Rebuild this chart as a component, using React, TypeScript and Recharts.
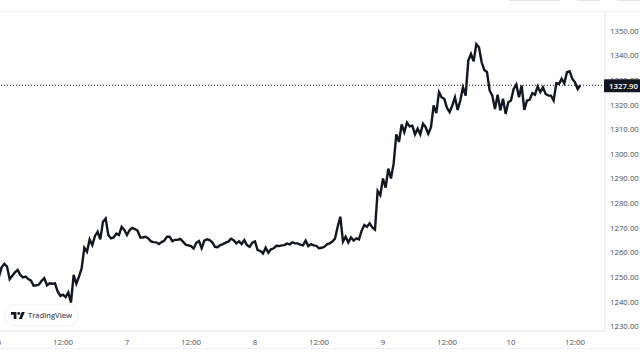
import React from 'react';
import { LineChart, Line, XAxis, YAxis, ReferenceLine } from 'recharts';

// half-hourly closes, one list per day
const day6 = [1250.3, 1254.1, 1255.5, 1254.4, 1249.3, 1250.7, 1252, 1253, 1251, 1250, 1250.3, 1249.3, 1248.7, 1246.6, 1246.8, 1247.1, 1248.6, 1249.7, 1246.8, 1247.6, 1247.4, 1247.6, 1244.3, 1242.5, 1243, 1242, 1243.9, 1239.8, 1251, 1247.4, 1250.3, 1253.7, 1262, 1260.4, 1265.4, 1263.1, 1266.8, 1268.5, 1265.4, 1272.6, 1273.9, 1267.2, 1265.8, 1266.2, 1267.8, 1267.2, 1270.5, 1269.2];
const day7 = [1267.2, 1269.2, 1270.1, 1269.6, 1268.9, 1266.2, 1266.2, 1266.5, 1265.8, 1264.6, 1264.3, 1264.2, 1263.5, 1264.3, 1264.9, 1266.5, 1266.5, 1264.7, 1265.2, 1265.2, 1265.6, 1264.5, 1263.3, 1263, 1262.7, 1261.7, 1264, 1264.7, 1261.8, 1264.9, 1265.4, 1265.1, 1264.2, 1262.4, 1262.2, 1263.1, 1263.5, 1264.1, 1264.5, 1265.7, 1265.1, 1263.8, 1264.6, 1263.5, 1265.1, 1263.1, 1262.4, 1264.1];
const day8 = [1264.6, 1261.1, 1260.7, 1259.7, 1262, 1260, 1261.4, 1261.8, 1262.8, 1262.7, 1263, 1263.1, 1263.7, 1263.4, 1264.2, 1263.8, 1263.8, 1263.3, 1263, 1264.9, 1262.7, 1263.5, 1263, 1262.8, 1261.8, 1262, 1262.4, 1263.4, 1263.8, 1264.5, 1265.7, 1270.5, 1274.6, 1264.5, 1266.5, 1264.1, 1266.2, 1264.9, 1265.8, 1265.4, 1268.9, 1271.2, 1270.5, 1271.9, 1270.3, 1269.4, 1285, 1283.3];
const day9 = [1290.1, 1286.4, 1294.1, 1290.1, 1296.1, 1308, 1304.9, 1312, 1308.9, 1312.8, 1311.2, 1311.5, 1308, 1310.3, 1308, 1312.3, 1310.9, 1308.2, 1310.9, 1319.7, 1316.6, 1325.1, 1323, 1322.4, 1318.7, 1317, 1319.7, 1323, 1317.9, 1321.7, 1327.1, 1323.7, 1337.9, 1340.6, 1337.6, 1344.6, 1343.3, 1337.2, 1334.1, 1333.2, 1325.8, 1323.7, 1318.3, 1324.1, 1317.7, 1322.4, 1316.3, 1321];
const day10 = [1321.7, 1326.4, 1328.2, 1323, 1327.8, 1317.9, 1321.7, 1322, 1324.7, 1324.1, 1327.4, 1325.1, 1327.1, 1324.4, 1323.7, 1323.7, 1321.7, 1328.7, 1328.4, 1330.5, 1328.7, 1333.2, 1333.6, 1330.5, 1329.1, 1326.4, 1327.9];

const timeTicks = [0, 12, 24, 36, 48, 60, 72, 84, 96, 108];
const timeLabels = ['6', '12:00', '7', '12:00', '8', '12:00', '9', '12:00', '10', '12:00'];
const priceTicks = [1230, 1240, 1250, 1260, 1270, 1280, 1290, 1300, 1310, 1320, 1330, 1340, 1350];
const lastPrice = 1327.9;

const prices = [...day6, ...day7, ...day8, ...day9, ...day10];
const data = prices.map((price, i) => ({ t: i * 0.5, price }));

const FONT = '"Open Sans", sans-serif';
const INK = '#131722';
const BORDER = '#e0e3eb';

function LastPriceLabel({ viewBox }: any) {
  const right = viewBox.x + viewBox.width;
  const y = viewBox.y;
  return (
    <g>
      <rect x={right - 1} y={y - 6} width={37} height={13} fill={INK} rx={1} />
      <text x={right + 18.5} y={y + 3.5} textAnchor="middle" fontSize={7.8} fontWeight={600} fontFamily={FONT} fill="#fff">
        {lastPrice.toFixed(2)}
      </text>
    </g>
  );
}

function Watermark() {
  return (
    <div style={{
      position: 'absolute', left: 4, top: 304, width: 73, height: 20, border: '1px solid #f0f3fa',
      borderRadius: 11, background: '#fff', display: 'flex', alignItems: 'center',
    }}>
      <svg width={14} height={7} viewBox="0 0 36 18" style={{ marginLeft: 6 }}>
        <path d="M14 18H7V7H0V0h14v18zM28 18h-8l7.5-18h8L28 18z" fill={INK} />
        <circle cx={20} cy={4} r={3.8} fill={INK} />
      </svg>
      <span style={{ marginLeft: 3, fontFamily: FONT, fontSize: 7.4, fontWeight: 600, color: '#50535e' }}>TradingView</span>
    </div>
  );
}

function Pill({ left, width }: { left: number; width: number }) {
  return (
    <div style={{
      position: 'absolute', left, top: -8, width, height: 9, boxSizing: 'border-box',
      border: `1px solid ${BORDER}`, borderRadius: 4,
    }} />
  );
}

export default function App() {
  return (
    <div style={{ position: 'absolute', left: 0, top: 0, width: 640, height: 357, overflow: 'hidden', background: '#fff' }}>
      <Pill left={507} width={55} />
      <Pill left={575} width={27} />
      <Pill left={615} width={40} />
      <div style={{ position: 'absolute', left: 0, top: 11, width: 640, height: 1, background: '#eceef2' }} />
      <div style={{ position: 'absolute', left: 0, top: 348, width: 640, height: 1, background: '#eceef5' }} />
      <LineChart
        width={640}
        height={357}
        data={data}
        margin={{ top: 12, right: 0, bottom: 0, left: 0 }}
      >
        <XAxis
          dataKey="t"
          type="number"
          domain={[0.19, 113.63]}
          allowDataOverflow
          ticks={timeTicks}
          interval={0}
          tickFormatter={(v: number) => timeLabels[timeTicks.indexOf(v)]}
          tick={{ fontSize: 7.8, fontFamily: FONT, fill: '#4a4e59' }}
          tickLine={false}
          axisLine={{ stroke: BORDER }}
          height={26}
          tickMargin={2}
        />
        <YAxis
          orientation="right"
          type="number"
          domain={[1228.26, 1357.6]}
          allowDataOverflow
          ticks={priceTicks}
          interval={0}
          tickFormatter={(v: number) => v.toFixed(2)}
          tick={{ fontSize: 7.8, fontFamily: FONT, fill: '#4a4e59' }}
          tickLine={false}
          tickSize={0}
          axisLine={{ stroke: BORDER }}
          width={35}
          tickMargin={5}
        />
        <Line
          dataKey="price"
          type="linear"
          stroke={INK}
          strokeWidth={2.4}
          dot={false}
          isAnimationActive={false}
        />
        <ReferenceLine
          y={lastPrice}
          stroke={INK}
          strokeDasharray="1 2"
          strokeWidth={1}
          label={<LastPriceLabel />}
          zIndex={2000}
        />
      </LineChart>
      <Watermark />
    </div>
  );
}
